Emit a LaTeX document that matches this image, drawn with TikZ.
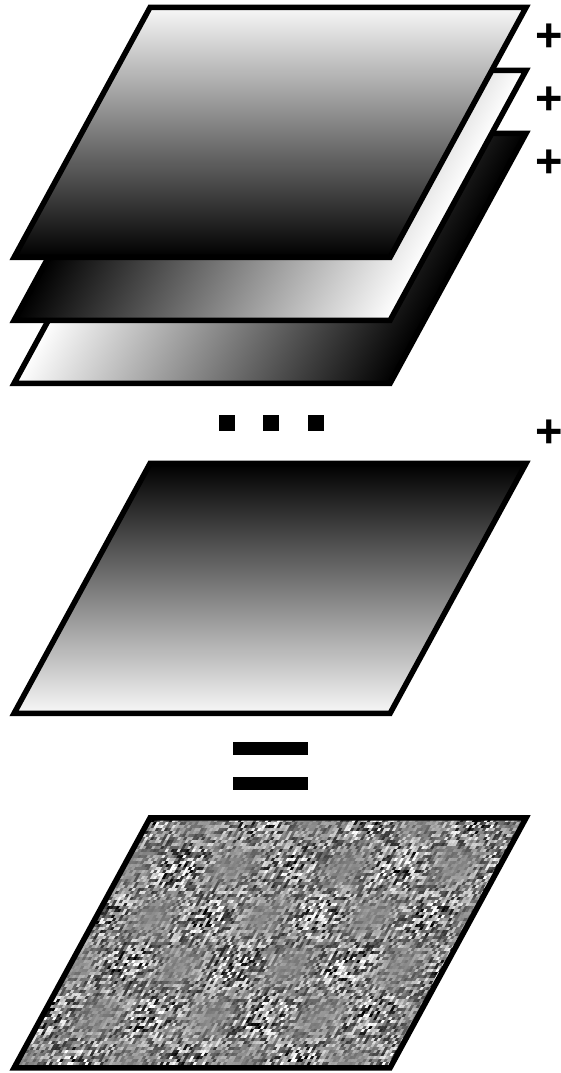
\documentclass[tikz,border=0pt]{standalone}
\usepackage{fontspec}
\setmainfont{Liberation Sans}
\usetikzlibrary{positioning}
\tikzset{
  layer-edge/.style={draw=black,line width=5.5pt,line join=miter},
  plus-sign/.style={inner sep=0pt,font=\fontsize{47}{47}\selectfont\bfseries},
  dot-box/.style={fill=black,minimum size=16pt,inner sep=0pt},
  eq-bar/.style={fill=black,minimum width=75pt,minimum height=13pt,inner sep=0pt},
}
% one slanted layer: #1 = bottom y, #2 = shading
\newcommand{\layerpanel}[2]{%
  \fill[#2,transform canvas={cm={1,0,0.544,1,(14pt,#1pt)}}] (0,0) rectangle (376,250);
  \draw[layer-edge] (14,#1) -- (390,#1) -- (526,#1+250) -- (150,#1+250) -- cycle;
}
\begin{document}
\begin{tikzpicture}[x=1pt,y=1pt]
  \useasboundingbox (0,0) rectangle (561,1073);
  % noisy sum
  \begin{scope}[cm={1,0,0.544,1,(14pt,5pt)}]
    \clip (0,0) rectangle (376,250);
    \fill[black!46] (0,0) rectangle (376,250);
    \foreach \i in {0,3,...,375}{
      \foreach \j in {0,3,...,249}{
        \pgfmathsetmacro{\ampl}{0.1+0.9*(0.5-0.5*cos(\i*3.2727)*cos(\j*3.6))}
        \pgfmathsetmacro{\gv}{max(0,min(100,46+64*\ampl*(2*rnd-1)))}
        \fill[black!\gv] (\i,\j) rectangle ++(3,3);
      }
    }
  \end{scope}
  \draw[layer-edge] (14,5) -- (390,5) -- (526,255) -- (150,255) -- cycle;
  % last layer
  \layerpanel{359.5}{top color=black,bottom color=white!97!black}
  % first three layers
  \layerpanel{689.5}{left color=white,right color=black}
  \layerpanel{752.5}{left color=black,right color=white}
  \layerpanel{815.5}{top color=white!97!black,bottom color=black}
  % signs
  \node[plus-sign] (p1) at (549,1035) {+};
  \node[plus-sign] (p2) at (549,972) {+};
  \node[plus-sign] (p3) at (549,909) {+};
  \node[plus-sign] (p4) at (549,639) {+};
  \node[dot-box] (d1) at (227,650) {};
  \node[dot-box,right=28pt of d1] (d2) {};
  \node[dot-box,right=28pt of d2] (d3) {};
  \node[eq-bar] (eq1) at (270.5,324) {};
  \node[eq-bar,below=21.5pt of eq1] (eq2) {};
\end{tikzpicture}
\end{document}
